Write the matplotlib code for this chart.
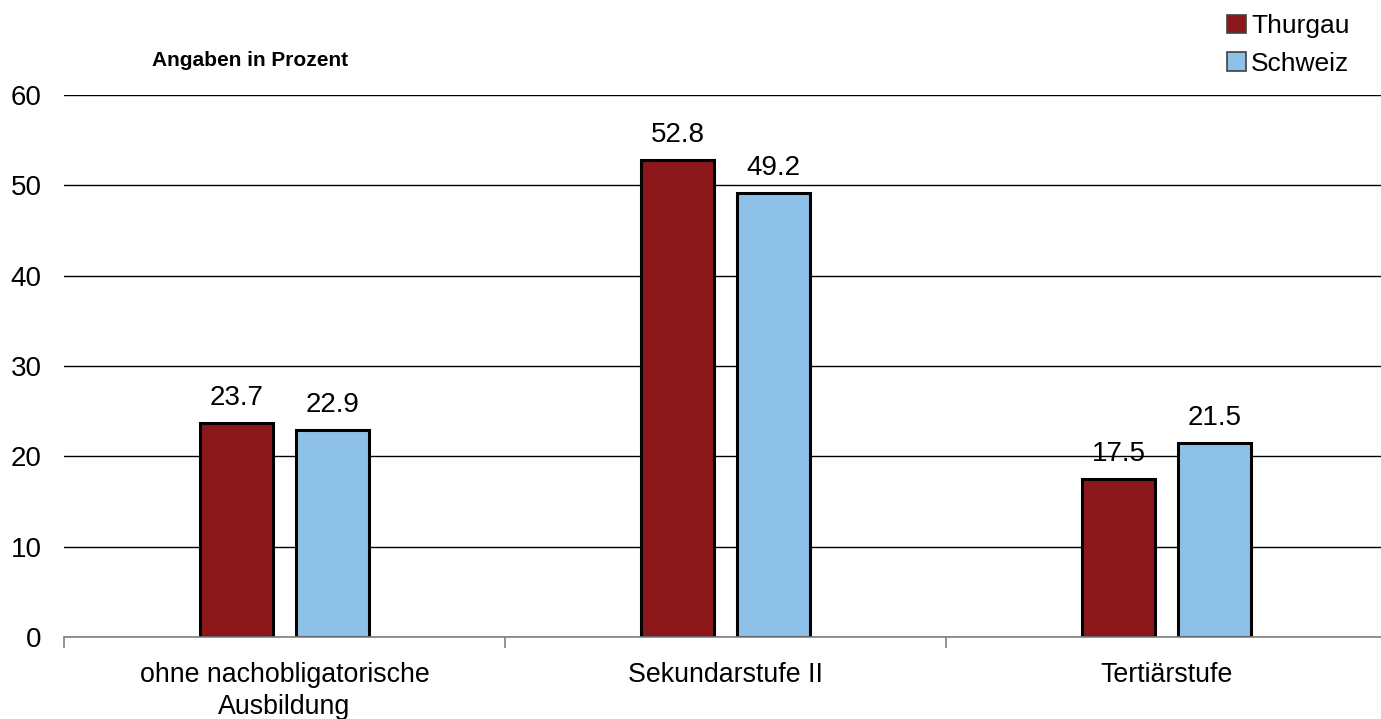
import matplotlib.pyplot as plt
import numpy as np
from matplotlib.patches import Patch

plt.rcParams['font.family'] = ['Liberation Sans', 'DejaVu Sans']

# ---------------------------------------------------------------------
# DATA
# ---------------------------------------------------------------------
categories = ['ohne nachobligatorische\nAusbildung', 'Sekundarstufe II', 'Tertiärstufe']
series_names = ['Thurgau', 'Schweiz']
thurgau = [23.7, 52.8, 17.5]
schweiz = [22.9, 49.2, 21.5]
y_ticks = [0, 10, 20, 30, 40, 50, 60]

COLORS = ['#8b171a', '#8ec1e7']
BAR_W = 0.165
OFFSETS = [-0.108, 0.108]

fig = plt.figure(figsize=(13.81, 7.19), dpi=100)
ax = fig.add_axes([64 / 1381, 1 - 637 / 719, 1 - 64 / 1381, (637 - 95) / 719])

x = np.arange(len(categories))
for vals, off, color in zip([thurgau, schweiz], OFFSETS, COLORS):
    bars = ax.bar(x + off, vals, BAR_W, color=color, edgecolor='black',
                  linewidth=2.2, zorder=3)
    for b, v in zip(bars, vals):
        ax.annotate(f'{v:.1f}', (b.get_x() + b.get_width() / 2, v),
                    xytext=(0, 13), textcoords='offset points',
                    ha='center', va='baseline', fontsize=20, zorder=4)

ax.set_xlim(-0.5, 2.5 - 6 / 441)
ax.set_ylim(0, 60)
ax.set_yticks(y_ticks)
ax.yaxis.grid(True, color='black', linewidth=1.0, zorder=0)
ax.set_axisbelow(True)

# group boundaries carry the tick marks, group centres carry the labels
ax.set_xticks([-0.5, 0.5, 1.5])
ax.set_xticklabels([])
ax.set_xticks(x, minor=True)
ax.set_xticklabels(categories, minor=True, fontsize=19.3, linespacing=1.28)
ax.tick_params(axis='x', which='major', direction='out', length=8,
               width=1.2, color='#808080')
ax.tick_params(axis='x', which='minor', length=0, pad=18)
ax.tick_params(axis='y', length=0, pad=16, labelsize=20)

for side in ['left', 'right', 'top']:
    ax.spines[side].set_visible(False)
ax.spines['bottom'].set_color('#808080')
ax.spines['bottom'].set_linewidth(1.2)
ax.spines['bottom'].set_zorder(5)

fig.text(152 / 1381, 1 - 60 / 719, 'Angaben in Prozent', fontsize=15,
         fontweight='bold', ha='left', va='center')

handles = [Patch(facecolor=c, edgecolor='#404040', linewidth=1.2) for c in COLORS]
fig.legend(handles, series_names, loc='upper right',
           bbox_to_anchor=(1 - 18 / 1381, 1 - 1 / 719), frameon=False,
           fontsize=19, handlelength=0.7, handleheight=0.7,
           handletextpad=0.22, labelspacing=0.52, borderpad=0.0)

fig.savefig('out.png', dpi=100)
